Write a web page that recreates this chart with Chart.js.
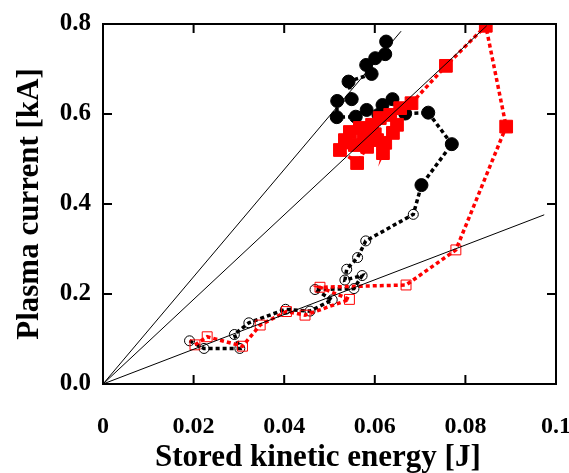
<!DOCTYPE html>
<html>
<head>
<meta charset="utf-8">
<script src="https://cdn.jsdelivr.net/npm/chart.js@4/dist/chart.umd.min.js"></script>
<style>
  html, body { margin: 0; padding: 0; background: #fff; }
  #wrap { width: 569px; height: 473px; }
</style>
</head>
<body>
<div id="wrap"><canvas id="c"></canvas></div>
<script>
// black series: first blackOpen points are open circles, the rest filled
var blackX = [0.0191, 0.0223, 0.0302, 0.0290, 0.0322, 0.0403, 0.0457, 0.0506, 0.0468, 0.0554, 0.0572, 0.0534, 0.0538, 0.0562, 0.0580, 0.0685,
              0.0703, 0.0770, 0.0718, 0.0667, 0.0639, 0.0617, 0.0608, 0.0582, 0.0558, 0.0516, 0.0517, 0.0549, 0.0542, 0.0593, 0.0581, 0.0601, 0.0623, 0.0625];
var blackY = [0.096, 0.079, 0.079, 0.110, 0.136, 0.166, 0.162, 0.187, 0.210, 0.212, 0.241, 0.231, 0.255, 0.281, 0.318, 0.377,
              0.442, 0.533, 0.603, 0.601, 0.633, 0.620, 0.598, 0.609, 0.594, 0.593, 0.629, 0.633, 0.672, 0.689, 0.709, 0.724, 0.733, 0.761];
var blackOpen = 16;

// red series: first redOpen points are open squares, the rest filled
var redX = [0.0203, 0.0230, 0.0308, 0.0347, 0.0405, 0.0446, 0.0544, 0.0479, 0.0669, 0.0779,
            0.0890, 0.0845, 0.0757, 0.0681, 0.0656, 0.0634, 0.0649, 0.0640, 0.0618, 0.0623, 0.0605, 0.0611, 0.0594, 0.0583, 0.0567, 0.0545, 0.0534, 0.0556, 0.0523, 0.0561, 0.0600, 0.0575];
var redY = [0.087, 0.105, 0.084, 0.131, 0.161, 0.153, 0.188, 0.215, 0.220, 0.298,
            0.572, 0.796, 0.707, 0.624, 0.613, 0.598, 0.576, 0.558, 0.513, 0.536, 0.542, 0.591, 0.576, 0.527, 0.569, 0.560, 0.542, 0.531, 0.520, 0.491, 0.555, 0.548];
var redOpen = 10;

// thin reference lines from the origin
var refEndX = [0.0658, 0.0847, 0.0974];
var refEndY = [0.784, 0.796, 0.376];

var xTicks = [0, 0.02, 0.04, 0.06, 0.08, 0.1];
var yTicks = [0, 0.2, 0.4, 0.6, 0.8];

function pts(xs, ys) {
  return xs.map(function (x, i) { return { x: x, y: ys[i] }; });
}

var serif = "'Liberation Serif', 'Times New Roman', serif";

var datasets = refEndX.map(function (x, i) {
  return {
    data: [{ x: 0, y: 0 }, { x: x, y: refEndY[i] }],
    borderColor: '#000', borderWidth: 1, pointRadius: 0, order: 0
  };
});

datasets.push({
  data: pts(blackX, blackY),
  borderColor: '#000', borderWidth: 3.5, borderDash: [4, 3],
  pointStyle: 'circle',
  pointRadius: function (c) { return c.dataIndex < blackOpen ? 5 : 6.5; },
  pointBorderWidth: 1,
  pointBorderColor: '#000',
  pointBackgroundColor: function (c) { return c.dataIndex < blackOpen ? 'rgba(0,0,0,0)' : '#000'; },
  order: 2
});

datasets.push({
  data: pts(redX, redY),
  borderColor: '#ff0000', borderWidth: 3.5, borderDash: [4, 3],
  pointStyle: 'rect',
  pointRadius: function (c) { return c.dataIndex < redOpen ? 7 : 9; },
  pointBorderWidth: 1,
  pointBorderColor: '#ff0000',
  pointBackgroundColor: function (c) { return c.dataIndex < redOpen ? 'rgba(0,0,0,0)' : '#ff0000'; },
  order: 1
});

// frame and inward ticks on all four sides
var framePlugin = {
  id: 'frame',
  afterDraw: function (chart) {
    var ctx = chart.ctx, a = chart.chartArea;
    var xs = chart.scales.x, ys = chart.scales.y;
    ctx.save();
    ctx.strokeStyle = '#000';
    ctx.lineWidth = 2;
    ctx.strokeRect(a.left, a.top, a.right - a.left, a.bottom - a.top);
    ctx.beginPath();
    xTicks.forEach(function (v) {
      var px = xs.getPixelForValue(v);
      ctx.moveTo(px, a.bottom); ctx.lineTo(px, a.bottom - 9);
      ctx.moveTo(px, a.top); ctx.lineTo(px, a.top + 9);
    });
    yTicks.forEach(function (v) {
      var py = ys.getPixelForValue(v);
      ctx.moveTo(a.left, py); ctx.lineTo(a.left + 9, py);
      ctx.moveTo(a.right, py); ctx.lineTo(a.right - 9, py);
    });
    ctx.stroke();
    ctx.restore();
  }
};

new Chart(document.getElementById('c'), {
  type: 'line',
  data: { datasets: datasets },
  options: {
    responsive: true,
    maintainAspectRatio: false,
    animation: false,
    layout: { padding: { left: 0, top: 24, right: 13, bottom: 0 } },
    plugins: { legend: { display: false }, tooltip: { enabled: false } },
    scales: {
      x: {
        type: 'linear', min: 0, max: 0.1,
        afterBuildTicks: function (s) { s.ticks = xTicks.map(function (v) { return { value: v }; }); },
        afterFit: function (s) { s.height = 89; s.paddingLeft = 0; s.paddingRight = 0; },
        grid: { display: false, drawTicks: false }, border: { display: false },
        ticks: {
          padding: 28, color: '#000', maxRotation: 0,
          font: { family: serif, size: 24, weight: 'bold' },
          callback: function (v) { return v === 0 ? '0' : String(Math.round(v * 100) / 100); }
        },
        title: {
          display: true, text: 'Stored kinetic energy [J]\u00a0\u00a0\u00a0', color: '#000',
          font: { family: serif, size: 31, weight: 'bold', lineHeight: 1 }, padding: { top: 0, bottom: 0 }
        }
      },
      y: {
        type: 'linear', min: 0, max: 0.8,
        afterBuildTicks: function (s) { s.ticks = yTicks.map(function (v) { return { value: v }; }); },
        afterFit: function (s) { s.width = 103; s.paddingTop = 0; s.paddingBottom = 0; },
        grid: { display: false, drawTicks: false }, border: { display: false },
        ticks: {
          padding: 12, color: '#000',
          font: { family: serif, size: 25, weight: 'bold' },
          callback: function (v) { return v.toFixed(1); }
        },
        title: {
          display: true, text: 'Plasma current [kA]', color: '#000',
          font: { family: serif, size: 31, weight: 'bold', lineHeight: 1 }, padding: { top: 14, bottom: 0 }
        }
      }
    }
  },
  plugins: [framePlugin]
});
</script>
</body>
</html>
